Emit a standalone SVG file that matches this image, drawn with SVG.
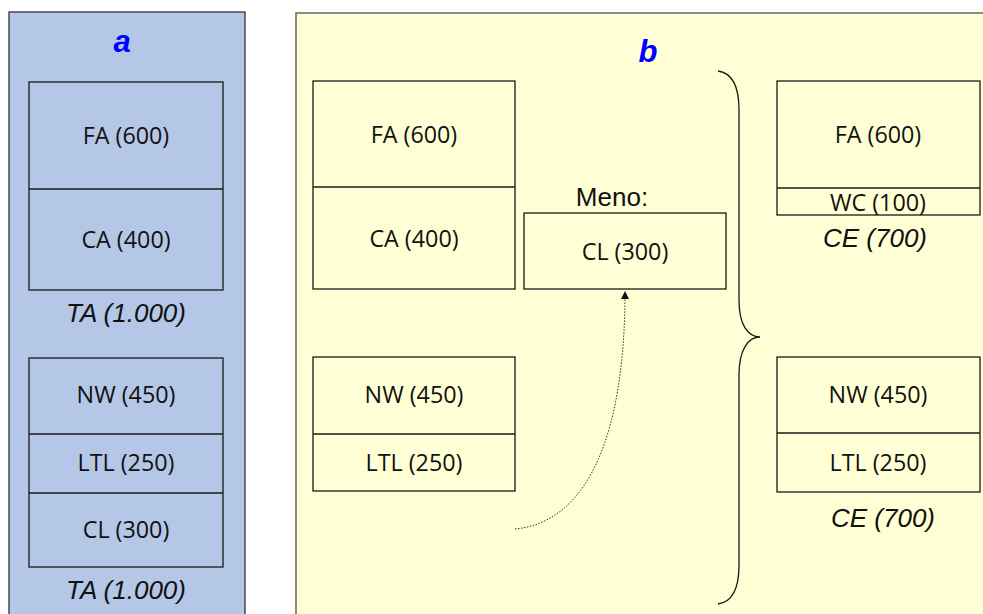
<svg xmlns="http://www.w3.org/2000/svg" width="983" height="614" viewBox="0 0 983 614">
<style>
.box{fill:none;stroke:#1a1a1a;stroke-width:1.3}
.t{font-family:"Open Sans","Noto Sans",sans-serif;font-size:23.3px;fill:#111;text-anchor:middle}
.i{font-family:"Liberation Sans",Arial,sans-serif;font-size:26px;font-style:italic;fill:#111;text-anchor:middle}
.m{font-family:"Liberation Sans",Arial,sans-serif;font-size:26px;fill:#111;text-anchor:middle}
.h{font-family:"Liberation Sans",Arial,sans-serif;font-size:31px;font-style:italic;font-weight:bold;fill:#0000ff;text-anchor:middle}
</style>
<defs>
<marker id="arr" markerWidth="8" markerHeight="8" refX="7" refY="4" orient="auto" markerUnits="userSpaceOnUse">
<path d="M0,0 L8,4 L0,8 Z" fill="#111"/>
</marker>
</defs>
<rect width="983" height="614" fill="#ffffff"/>
<g id="panel-a">
<rect x="9" y="12" width="236" height="620" fill="#b4c7e7" stroke="#333" stroke-width="1.3"/>
<text class="h" x="122" y="52">a</text>
</g>
<g id="panel-b">
<rect x="296" y="13" width="700" height="620" fill="#ffffd5" stroke="#666" stroke-width="1.5"/>
<text class="h" x="648" y="62">b</text>
</g>
<g id="a-assets">
<rect class="box" x="29" y="82" width="194" height="208"/>
<line class="box" x1="29" y1="189" x2="223" y2="189"/>
<text class="t" x="126" y="144">FA (600)</text>
<text class="t" x="126" y="248">CA (400)</text>
<text class="i" x="126" y="322">TA (1.000)</text>
</g>
<g id="a-liab">
<rect class="box" x="29" y="358" width="194" height="209"/>
<line class="box" x1="29" y1="434" x2="223" y2="434"/>
<line class="box" x1="29" y1="493" x2="223" y2="493"/>
<text class="t" x="126" y="403">NW (450)</text>
<text class="t" x="126" y="471">LTL (250)</text>
<text class="t" x="126" y="538">CL (300)</text>
<text class="i" x="126" y="599">TA (1.000)</text>
</g>
<g id="b-assets">
<rect class="box" x="313" y="81" width="202" height="208"/>
<line class="box" x1="313" y1="187" x2="515" y2="187"/>
<text class="t" x="414" y="143">FA (600)</text>
<text class="t" x="414" y="247">CA (400)</text>
</g>
<g id="b-liab">
<rect class="box" x="313" y="357" width="202" height="134"/>
<line class="box" x1="313" y1="434" x2="515" y2="434"/>
<text class="t" x="414" y="403">NW (450)</text>
<text class="t" x="414" y="471">LTL (250)</text>
</g>
<g id="b-cl">
<text class="m" x="612" y="206">Meno:</text>
<rect class="box" x="524" y="213" width="202" height="76"/>
<text class="t" x="625" y="260">CL (300)</text>
</g>
<g id="brace">
<path d="M718,71 C733,73 739,88 739,110 L739,300 C739,325 748,337 760,337 C748,337 739,350 739,375 L739,565 C739,588 733,602 718,604" fill="none" stroke="#1a1a1a" stroke-width="1.3"/>
</g>
<g id="c-assets">
<rect class="box" x="777" y="81" width="203" height="134"/>
<line class="box" x1="777" y1="188" x2="980" y2="188"/>
<text class="t" x="878" y="143">FA (600)</text>
<text class="t" x="878" y="211">WC (100)</text>
<text class="i" x="875" y="247">CE (700)</text>
</g>
<g id="c-liab">
<rect class="box" x="777" y="357" width="203" height="135"/>
<line class="box" x1="777" y1="433" x2="980" y2="433"/>
<text class="t" x="878" y="403">NW (450)</text>
<text class="t" x="878" y="471">LTL (250)</text>
<text class="i" x="883" y="527">CE (700)</text>
</g>
<g id="connectors">
<path d="M515,529 C590,522 625,430 625,292" fill="none" stroke="#333" stroke-width="1" stroke-dasharray="1.5,1.5" marker-end="url(#arr)"/>
</g>
</svg>
